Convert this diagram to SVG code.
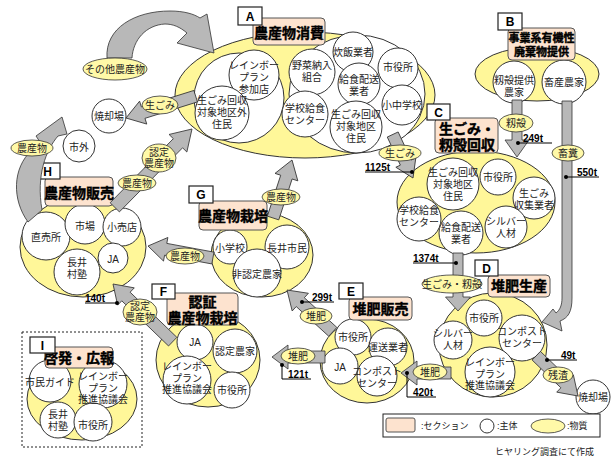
<svg xmlns="http://www.w3.org/2000/svg" width="611" height="457" viewBox="0 0 611 457">
<style>
.y{fill:#fff799;stroke:#333;stroke-width:1}
.w{fill:#fff;stroke:#333;stroke-width:1}
.t{font-family:"Liberation Sans","Noto Sans CJK JP",sans-serif;font-size:10px;fill:#222;text-anchor:middle}
.tb{fill:#fde3cf;stroke:#555;stroke-width:1}
.tt{font-family:"Liberation Sans","Noto Sans CJK JP",sans-serif;font-size:14px;font-weight:bold;text-anchor:middle;fill:#000;stroke:#000;stroke-width:0.4}
.lb{fill:#fff;stroke:#222;stroke-width:1.2}
.lt{font-family:"Liberation Sans",sans-serif;font-size:12px;font-weight:bold;text-anchor:middle;fill:#000}
.ar{fill:#b8b8b8;stroke:#333;stroke-width:0.8}
.m{fill:#fff9a8;stroke:#333;stroke-width:0.8}
.q{font-family:"Liberation Sans",sans-serif;font-size:10px;font-weight:bold;fill:#000}
.ql{stroke:#000;stroke-width:1;fill:none}
.lg{font-family:"Liberation Sans","Noto Sans CJK JP",sans-serif;font-size:9px;fill:#222}
</style>

<g id="A">
<ellipse class="y" cx="305" cy="95" rx="130" ry="63"/>
<circle class="w" cx="239" cy="98" r="45"/>
<ellipse class="w" cx="357" cy="94" rx="68" ry="59"/>
<circle class="w" cx="254" cy="75" r="25"/>
<circle class="w" cx="222" cy="113" r="27"/>
<circle class="w" cx="312" cy="72" r="23"/>
<circle class="w" cx="305" cy="114" r="23"/>
<circle class="w" cx="353" cy="52" r="20"/>
<circle class="w" cx="359" cy="84" r="21"/>
<circle class="w" cx="356" cy="127" r="26"/>
<circle class="w" cx="398" cy="68" r="20"/>
<circle class="w" cx="402" cy="105" r="20"/>
<text class="t"><tspan x="254" y="68.5">レインボー</tspan><tspan x="254" y="80.5">プラン</tspan><tspan x="254" y="92.5">参加店</tspan></text>
<text class="t"><tspan x="222" y="103.5">生ごみ回収</tspan><tspan x="222" y="115.5">対象地区外</tspan><tspan x="222" y="127.5">住民</tspan></text>
<text class="t"><tspan x="312" y="68.5">野菜納入</tspan><tspan x="312" y="81">組合</tspan></text>
<text class="t" x="353" y="55.5">炊飯業者</text>
<text class="t"><tspan x="359" y="82.5">給食配送</tspan><tspan x="359" y="94.5">業者</tspan></text>
<text class="t"><tspan x="305" y="111.5">学校給食</tspan><tspan x="305" y="123.5">センター</tspan></text>
<text class="t"><tspan x="356" y="118">生ごみ回収</tspan><tspan x="356" y="130">対象地区</tspan><tspan x="356" y="142">住民</tspan></text>
<text class="t" x="398" y="71">市役所</text>
<text class="t" x="402" y="109">小中学校</text>
<rect class="tb" x="253" y="18" width="72" height="27" rx="4"/>
<text class="tt" x="289" y="37.5">農産物消費</text>
<rect class="lb" x="238" y="7" width="24" height="18"/>
<text class="lt" x="250" y="20.5">A</text>
</g>

<g id="B">
<ellipse class="y" cx="537" cy="74" rx="62" ry="27"/>
<circle class="w" cx="514" cy="82" r="21"/>
<circle class="w" cx="564" cy="82" r="22"/>
<text class="t"><tspan x="514" y="84">籾殻提供</tspan><tspan x="514" y="96">農家</tspan></text>
<text class="t" x="564" y="85.5">畜産農家</text>
<rect class="tb" x="508" y="28" width="67" height="32" rx="4"/>
<text class="tt" style="font-size:11px"><tspan x="541.5" y="42">事業系有機性</tspan><tspan x="541.5" y="56">廃棄物提供</tspan></text>
<rect class="lb" x="498" y="13" width="24" height="17"/>
<text class="lt" x="510" y="26">B</text>
</g>

<g id="C">
<ellipse class="y" cx="476" cy="202" rx="79" ry="51"/>
<circle class="w" cx="453" cy="184" r="26"/>
<circle class="w" cx="498" cy="177" r="18"/>
<circle class="w" cx="534" cy="198" r="21"/>
<circle class="w" cx="419" cy="219" r="22"/>
<circle class="w" cx="461" cy="233" r="22"/>
<circle class="w" cx="506" cy="227" r="21"/>
<text class="t"><tspan x="453" y="176">生ごみ回収</tspan><tspan x="453" y="188">対象地区</tspan><tspan x="453" y="200">住民</tspan></text>
<text class="t" x="498" y="181">市役所</text>
<text class="t"><tspan x="534" y="196.5">生ごみ</tspan><tspan x="534" y="208.5">収集業者</tspan></text>
<text class="t"><tspan x="419" y="214">学校給食</tspan><tspan x="419" y="226">センター</tspan></text>
<text class="t"><tspan x="461" y="231">給食配送</tspan><tspan x="461" y="243">業者</tspan></text>
<text class="t"><tspan x="506" y="225">シルバー</tspan><tspan x="506" y="237">人材</tspan></text>
<rect class="tb" x="435" y="118" width="63" height="35" rx="4"/>
<text class="tt"><tspan x="467" y="134">生ごみ・</tspan><tspan x="467" y="150">籾殻回収</tspan></text>
<rect class="lb" x="427" y="104" width="23" height="16"/>
<text class="lt" x="438.5" y="116.5">C</text>
</g>

<g id="D">
<ellipse class="y" cx="493" cy="345" rx="54" ry="52"/>
<circle class="w" cx="484" cy="318" r="18"/>
<circle class="w" cx="453" cy="340" r="19"/>
<circle class="w" cx="522" cy="338" r="23"/>
<circle class="w" cx="490" cy="372" r="25"/>
<text class="t" x="484" y="321.5">市役所</text>
<text class="t"><tspan x="453" y="336.5">シルバー</tspan><tspan x="453" y="349">人材</tspan></text>
<text class="t"><tspan x="522" y="335">コンポスト</tspan><tspan x="522" y="347">センター</tspan></text>
<text class="t"><tspan x="490" y="366">レインボー</tspan><tspan x="490" y="377.5">プラン</tspan><tspan x="490" y="389">推進協議会</tspan></text>
<rect class="tb" x="488" y="275" width="62" height="22" rx="4"/>
<text class="tt" x="519" y="291">堆肥生産</text>
<rect class="lb" x="475" y="260" width="23" height="16"/>
<text class="lt" x="486.5" y="272.5">D</text>
</g>

<g id="E">
<ellipse class="y" cx="367" cy="361" rx="47" ry="42"/>
<circle class="w" cx="353" cy="337" r="18"/>
<circle class="w" cx="388" cy="347" r="19"/>
<circle class="w" cx="340" cy="366" r="18"/>
<circle class="w" cx="377" cy="376" r="20"/>
<text class="t" x="353" y="341">市役所</text>
<text class="t" x="388" y="350.5">運送業者</text>
<text class="t" x="340" y="370.5">JA</text>
<text class="t"><tspan x="377" y="375">コンポスト</tspan><tspan x="377" y="387">センター</tspan></text>
<rect class="tb" x="349" y="297" width="63" height="23" rx="4"/>
<text class="tt" x="380.5" y="314">堆肥販売</text>
<rect class="lb" x="339" y="283" width="24" height="16"/>
<text class="lt" x="351" y="295.5">E</text>
</g>

<g id="F">
<ellipse class="y" cx="208" cy="360" rx="52" ry="47"/>
<circle class="w" cx="195" cy="342" r="18"/>
<circle class="w" cx="235" cy="351" r="22"/>
<circle class="w" cx="187" cy="380" r="24"/>
<circle class="w" cx="232" cy="390" r="18"/>
<text class="t" x="195" y="345.5">JA</text>
<text class="t" x="235" y="355">認定農家</text>
<text class="t"><tspan x="187" y="370">レインボー</tspan><tspan x="187" y="381.5">プラン</tspan><tspan x="187" y="393">推進協議会</tspan></text>
<text class="t" x="232" y="393.5">市役所</text>
<rect class="tb" x="167" y="293" width="71" height="32" rx="4"/>
<text class="tt"><tspan x="202.5" y="307">認証</tspan><tspan x="202.5" y="323">農産物栽培</tspan></text>
<rect class="lb" x="152" y="284" width="23" height="15"/>
<text class="lt" x="163.5" y="296">F</text>
</g>

<g id="G">
<ellipse class="y" cx="262" cy="255" rx="51" ry="42"/>
<circle class="w" cx="230" cy="247" r="17"/>
<circle class="w" cx="287" cy="247" r="22"/>
<circle class="w" cx="257" cy="273" r="24"/>
<text class="t" x="230" y="251.5">小学校</text>
<text class="t" x="287" y="251.5">長井市民</text>
<text class="t" x="257" y="278">非認定農家</text>
<rect class="tb" x="199" y="201" width="68" height="29" rx="4"/>
<text class="tt" x="233" y="221">農産物栽培</text>
<rect class="lb" x="189" y="186" width="24" height="17"/>
<text class="lt" x="201" y="199">G</text>
</g>

<g id="H">
<ellipse class="y" cx="83" cy="247" rx="63" ry="50"/>
<circle class="w" cx="46" cy="236" r="24"/>
<circle class="w" cx="85" cy="224" r="20"/>
<circle class="w" cx="122" cy="227" r="19"/>
<circle class="w" cx="113" cy="258" r="15"/>
<circle class="w" cx="77" cy="272" r="23"/>
<text class="t" x="46" y="240.5">直売所</text>
<text class="t" x="85" y="230">市場</text>
<text class="t" x="122" y="230.5">小売店</text>
<text class="t" x="113" y="263">JA</text>
<text class="t"><tspan x="77" y="266">長井</tspan><tspan x="77" y="278">村塾</tspan></text>
<rect class="tb" x="45" y="177" width="68" height="29" rx="4"/>
<text class="tt" x="79" y="198">農産物販売</text>
<rect class="lb" x="35" y="163" width="25" height="16"/>
<text class="lt" x="47.5" y="175.5">H</text>
</g>

<g id="I">
<rect x="22" y="332" width="120" height="115" fill="none" stroke="#222" stroke-width="1" stroke-dasharray="2,2"/>
<ellipse class="y" cx="82" cy="399" rx="55" ry="41"/>
<circle class="w" cx="50" cy="381" r="21"/>
<circle class="w" cx="103" cy="384" r="24"/>
<circle class="w" cx="58" cy="420" r="18"/>
<circle class="w" cx="93" cy="422" r="19"/>
<text class="t" x="50" y="386">市民ガイド</text>
<text class="t"><tspan x="103" y="380">レインボー</tspan><tspan x="103" y="391.5">プラン</tspan><tspan x="103" y="403">推進協議会</tspan></text>
<text class="t"><tspan x="58" y="418">長井</tspan><tspan x="58" y="430">村塾</tspan></text>
<text class="t" x="93" y="428.5">市役所</text>
<rect class="tb" x="45" y="347" width="68" height="21" rx="4"/>
<text class="tt" x="79" y="363">啓発・広報</text>
<rect class="lb" x="30" y="337" width="25" height="16"/>
<text class="lt" x="42.5" y="349.5">I</text>
</g>

<g id="incinerator1">
<circle class="w" cx="109" cy="116" r="17"/>
<text class="t" x="109" y="120">焼却場</text>
</g>
<g id="outside">
<circle class="w" cx="79" cy="146" r="16"/>
<text class="t" x="79" y="150.5">市外</text>
</g>
<g id="incinerator2">
<circle class="w" cx="593" cy="397" r="17"/>
<text class="t" x="593" y="401">焼却場</text>
</g>

<g id="connectors">
<path class="ar" d="M107,58 C105,28 135,11 170,11 C184,11 194,14 200,18 L207,14 L214,53 L177,43 L187,33 C180,27 173,24 165,24 C146,25 133,40 132,58 Z"/>
<path class="ar" d="M28,222 C12,200 12,168 32,150 L40,142 L36,136 L62,117 L67,134 L58,136 C46,150 36,175 42,210 Z"/>
<path class="ar" d="M562,101 L572,101 L572,298 C572,312 568,318 560,321 L562,331 L542,322 L553,309 L556,313 C560,310 562,305 562,298 Z"/>
<polygon class="ar" transform="translate(126,118) rotate(162.6)" points="-73,-6 -18,-6 -18,-12 0,0 -18,12 -18,6 -73,6"/>
<polygon class="ar" transform="translate(192,129) rotate(-45.4)" points="-110,-6.5 -20,-6.5 -20,-12.5 0,0 -20,12.5 -20,6.5 -110,6.5"/>
<polygon class="ar" transform="translate(292,160) rotate(-71.9)" points="-61,-6 -18,-6 -18,-12 0,0 -18,12 -18,6 -61,6"/>
<polygon class="ar" transform="translate(148,246) rotate(-169.5)" points="-66,-6 -18,-6 -18,-12 0,0 -18,12 -18,6 -66,6"/>
<polygon class="ar" transform="translate(113,284) rotate(-136)" points="-83,-6 -18,-6 -18,-12 0,0 -18,12 -18,6 -83,6"/>
<polygon class="ar" transform="translate(287,290) rotate(-137.6)" points="-62,-6 -18,-6 -18,-12 0,0 -18,12 -18,6 -62,6"/>
<polygon class="ar" transform="translate(272,357) rotate(180)" points="-53,-6 -16,-6 -16,-12 0,0 -16,12 -16,6 -53,6"/>
<polygon class="ar" transform="translate(401,373) rotate(180)" points="-50,-6 -16,-6 -16,-12 0,0 -16,12 -16,6 -50,6"/>
<polygon class="ar" transform="translate(413,178) rotate(65)" points="-48,-6 -17,-6 -17,-11 0,0 -17,11 -17,6 -48,6"/>
<polygon class="ar" transform="translate(458,311) rotate(90)" points="-58,-5 -14,-5 -14,-12.5 0,0 -14,12.5 -14,5 -58,5"/>
<polygon class="ar" transform="translate(517,157) rotate(90)" points="-57,-5 -17,-5 -17,-12 0,0 -17,12 -17,5 -57,5"/>
<polygon class="ar" transform="translate(578,396) rotate(44)" points="-58,-6 -18,-6 -18,-12 0,0 -18,12 -18,6 -58,6"/>

<ellipse class="m" cx="115" cy="69" rx="32" ry="11"/>
<text class="t" x="115" y="72.5">その他農産物</text>
<ellipse class="m" cx="160" cy="105" rx="18" ry="9"/>
<text class="t" x="160" y="108.5">生ごみ</text>
<ellipse class="m" cx="32" cy="148" rx="21" ry="8"/>
<text class="t" x="32" y="151.5">農産物</text>
<ellipse class="m" cx="159" cy="158" rx="17" ry="14"/>
<text class="t"><tspan x="159" y="155.5">認定</tspan><tspan x="159" y="167">農産物</tspan></text>
<ellipse class="m" cx="137" cy="183" rx="19" ry="8"/>
<text class="t" x="137" y="186.5">農産物</text>
<ellipse class="m" cx="281" cy="197" rx="19" ry="8"/>
<text class="t" x="281" y="200.5">農産物</text>
<ellipse class="m" cx="185" cy="256" rx="19" ry="8"/>
<text class="t" x="185" y="259.5">農産物</text>
<ellipse class="m" cx="140" cy="312" rx="17" ry="13"/>
<text class="t"><tspan x="140" y="309.5">認定</tspan><tspan x="140" y="321">農産物</tspan></text>
<ellipse class="m" cx="316" cy="316" rx="16" ry="8"/>
<text class="t" x="316" y="319.5">堆肥</text>
<ellipse class="m" cx="298" cy="356" rx="17" ry="8"/>
<text class="t" x="298" y="359.5">堆肥</text>
<ellipse class="m" cx="430" cy="372" rx="17" ry="8"/>
<text class="t" x="430" y="375.5">堆肥</text>
<ellipse class="m" cx="400" cy="153" rx="21" ry="8"/>
<text class="t" x="400" y="156.5">生ごみ</text>
<ellipse class="m" cx="516" cy="123" rx="17" ry="9"/>
<text class="t" x="516" y="126.5">籾殻</text>
<ellipse class="m" cx="568" cy="153" rx="16" ry="8"/>
<text class="t" x="568" y="156.5">畜糞</text>
<ellipse class="m" cx="452" cy="284" rx="30" ry="9"/>
<text class="t" x="452" y="287.5">生ごみ・籾殻</text>
<ellipse class="m" cx="558" cy="375" rx="15" ry="8"/>
<text class="t" x="558" y="378.5">残渣</text>

<path class="ql" d="M365,172 H412"/><circle cx="412" cy="172" r="2"/>
<text class="q" x="365" y="170.5">1125t</text>
<path class="ql" d="M518,143 H552"/><circle cx="518" cy="143" r="2"/>
<text class="q" x="523" y="141.5">249t</text>
<path class="ql" d="M566,177 H599"/><circle cx="566" cy="177" r="2"/>
<text class="q" x="577" y="175.5">550t</text>
<path class="ql" d="M413,263 H456"/><circle cx="456" cy="263" r="2"/>
<text class="q" x="413" y="261.5">1374t</text>
<path class="ql" d="M547,360 H577"/><circle cx="547" cy="360" r="2"/>
<text class="q" x="561" y="358.5">49t</text>
<path class="ql" d="M407,373 V397 H436"/><circle cx="407" cy="373" r="2"/>
<text class="q" x="413" y="395.5">420t</text>
<path class="ql" d="M282,365 V379 H311"/><circle cx="282" cy="365" r="2"/>
<text class="q" x="288" y="377.5">121t</text>
<path class="ql" d="M302,302 H334"/><circle cx="302" cy="302" r="2"/>
<text class="q" x="312" y="300.5">299t</text>
<path class="ql" d="M85,303 H117"/><circle cx="117" cy="303" r="2"/>
<text class="q" x="85" y="301.5">140t</text>
</g>

<g id="legend">
<rect x="383" y="414" width="217" height="23" fill="#fff" stroke="#222" stroke-width="1"/>
<rect class="tb" x="386" y="418" width="29" height="14" rx="2"/>
<text class="lg" x="421" y="429">:セクション</text>
<circle class="w" cx="487" cy="426" r="7"/>
<text class="lg" x="497" y="429">:主体</text>
<ellipse class="m" cx="548" cy="426" rx="17" ry="7"/>
<text class="lg" x="567" y="429">:物質</text>
</g>
<text class="lg" x="495" y="455">ヒヤリング調査にて作成</text>
</svg>
